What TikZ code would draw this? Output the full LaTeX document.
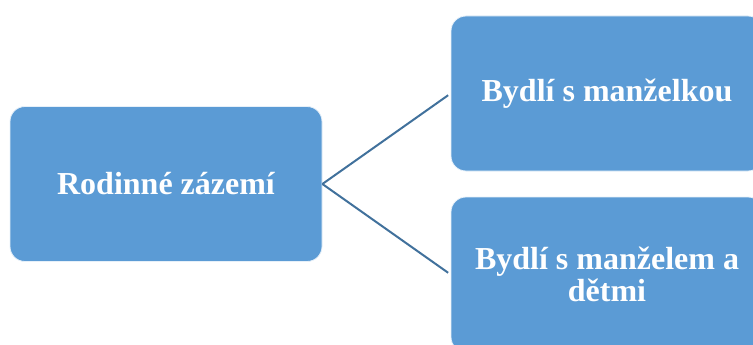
\documentclass[tikz,border=0pt]{standalone}
\usepackage{fontspec}
\setmainfont{Liberation Serif}
\definecolor{boxblue}{HTML}{5B9BD5}
\definecolor{linkblue}{HTML}{41719C}
\begin{document}
\begin{tikzpicture}[x=1pt,y=-1pt,
  card/.style={rectangle, rounded corners=15pt, fill=boxblue, draw=white!85!boxblue,
    line width=0.8pt, minimum width=312pt, minimum height=155pt, inner sep=0pt,
    text=white, align=center, font=\fontsize{32}{32}\selectfont\bfseries},
  link/.style={draw=linkblue, line width=2pt, shorten >=3pt}]
  \useasboundingbox (0,0) rectangle (753,345);
  \clip (0,0) rectangle (753,345);
  \node[card] (root) at (166,184) {Rodinné zázemí};
  \node[card] (wife) at (607,93.5) {Bydlí s manželkou};
  \node[card] (family) at (607,274.5) {Bydlí s manželem a\\dětmi};
  \draw[link] (root.east) -- (wife.west);
  \draw[link] (root.east) -- (family.west);
\end{tikzpicture}
\end{document}
